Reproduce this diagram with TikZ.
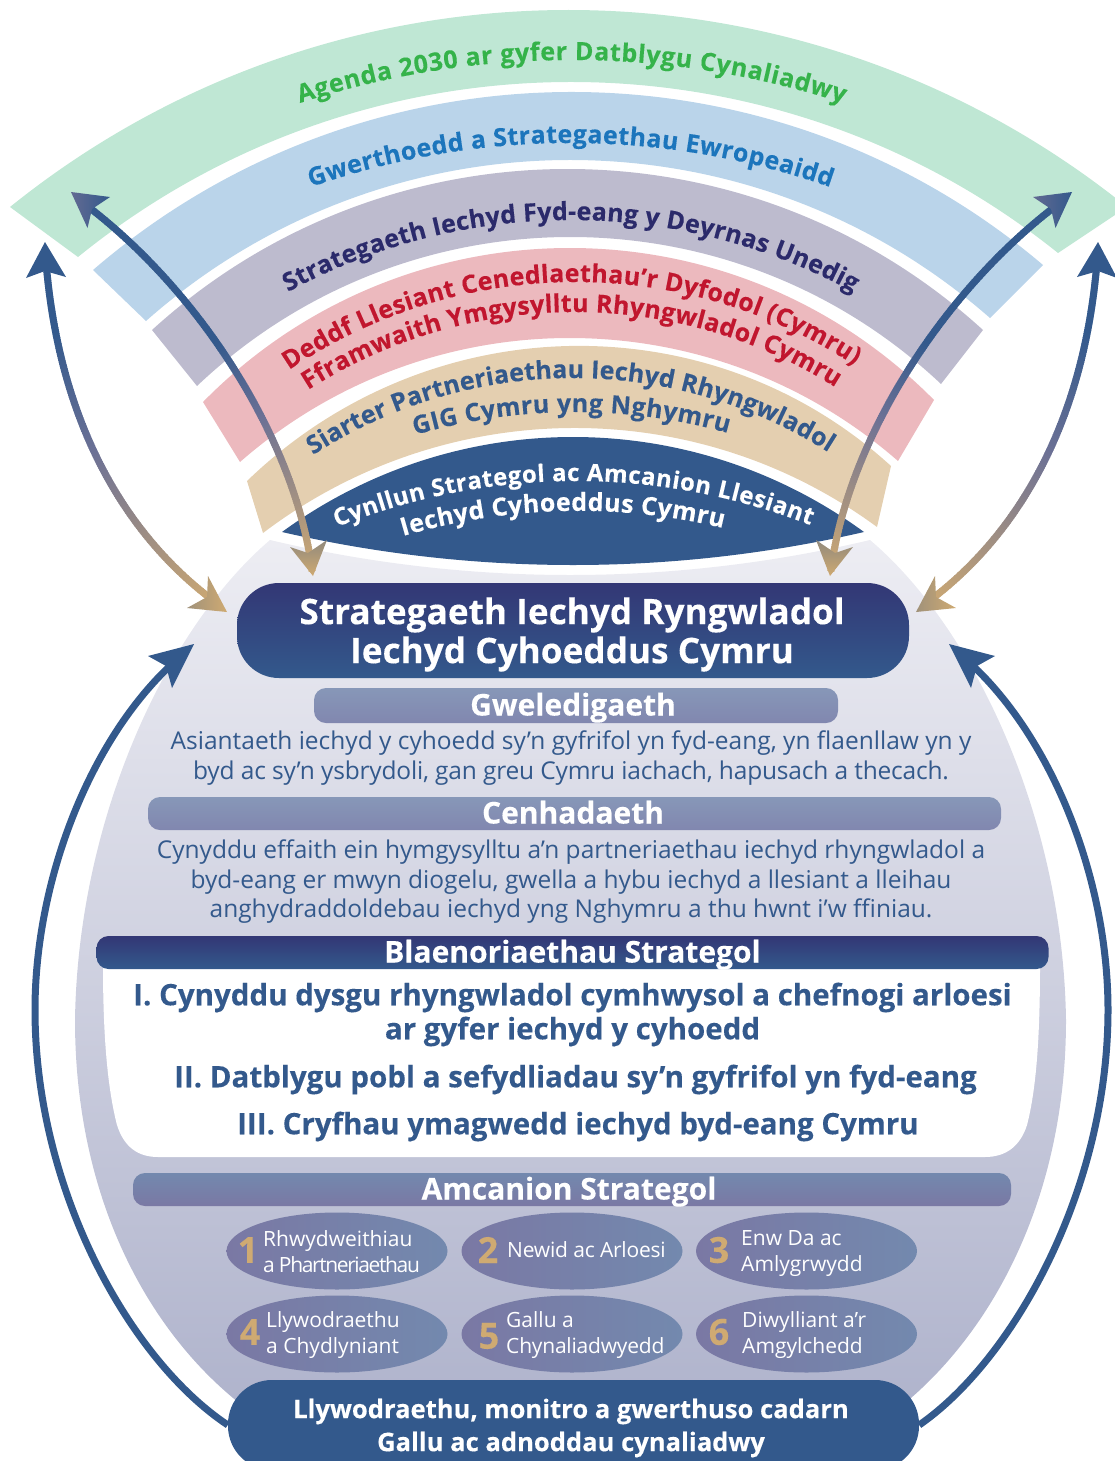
\documentclass[tikz,border=0pt]{standalone}
\usepackage{fontspec}
\setmainfont{Open Sans}[BoldFeatures={FakeBold=0.25}]
\usetikzlibrary{shapes.geometric,arrows.meta,decorations.text,decorations.markings}
\definecolor{bandGreen}{HTML}{BFE7D4}
\definecolor{bandBlue}{HTML}{BAD4EA}
\definecolor{bandGrey}{HTML}{BDBBCE}
\definecolor{bandPink}{HTML}{ECB9BE}
\definecolor{bandTan}{HTML}{E4CFB0}
\definecolor{phsBlue}{HTML}{33598C}
\definecolor{phsNavy}{HTML}{333775}
\definecolor{txtGreen}{HTML}{35B34A}
\definecolor{txtBlue}{HTML}{1C75BC}
\definecolor{txtNavy}{HTML}{2B2A6B}
\definecolor{txtRed}{HTML}{C1162E}
\definecolor{arrTan}{HTML}{CFAA72}
\definecolor{arrPurple}{HTML}{626A92}
\definecolor{arrMid}{HTML}{6C7195}
\definecolor{barTopA}{HTML}{8797B8}
\definecolor{barBotA}{HTML}{8187AF}
\definecolor{barTopB}{HTML}{7389AE}
\definecolor{barBotB}{HTML}{7A78A4}
\definecolor{eggTop}{HTML}{EDEDF3}
\definecolor{eggBot}{HTML}{AFB3CC}
% arc through A, apex height M, to B
\newcommand\cv[5]{.. controls ({#1+(2/3)*(1-(((#2+#5)/2-#3)/((#4-#1)/2))*(((#2+#5)/2-#3)/((#4-#1)/2)))*(#4-#1)/2},{(4*#3-#5)/3}) and ({#4-(2/3)*(1-(((#2+#5)/2-#3)/((#4-#1)/2))*(((#2+#5)/2-#3)/((#4-#1)/2)))*(#4-#1)/2},{(4*#3-#2)/3}) .. (#4,#5)}
\newcommand\curved[8]{\path[postaction={decorate},decoration={text along path,text align={fit to path},text={|\fontsize{#2}{#2}\selectfont\bfseries\color{#1}|#3}}] (#4,#5) \cv{#4}{#5}{#6}{#7}{#8};}
\tikzset{
  gradstroke/.style 2 args={decoration={markings,mark=between positions 0 and 1 step 2pt with {
    \pgfmathsetmacro\gt{\pgfkeysvalueof{/pgf/decoration/mark info/distance from start}/\pgfdecoratedpathlength}
    \pgfmathsetmacro\ga{100*min(1,\gt/#1)}
    \pgfmathsetmacro\gb{100*max(0,min(1,(\gt-#1)/(#2-#1)))}
    \colorlet{gradtmp}{arrMid!\ga!arrTan}
    \fill[phsBlue!\gb!gradtmp] (-1.4pt,-3.5pt) rectangle (1.4pt,3.5pt);}},decorate},
  bar/.style={rectangle,rounded corners=12pt,inner sep=0pt,text=white,text height=24pt,text depth=4pt,font=\fontsize{30}{30}\selectfont\bfseries},
  softbar/.style={bar,top color=barTopA,bottom color=barBotA},
  darkbar/.style={bar,top color=phsNavy,bottom color=phsBlue},
  para/.style={align=center,text=phsBlue,inner sep=0pt,font=\fontsize{24.5}{29.5}\selectfont},
  prio/.style={align=center,text=phsBlue,inner sep=0pt,font=\fontsize{29.5}{34}\selectfont\bfseries},
  oval/.style={ellipse,minimum width=221pt,minimum height=77pt,inner sep=0pt,left color=barBotB,right color=barTopB},
  num/.style={text=arrTan,inner sep=0pt,font=\fontsize{36}{36}\selectfont\bfseries},
  ovaltext/.style={anchor=west,align=left,text=white,inner sep=0pt,font=\fontsize{21}{26}\selectfont},
  pilltext/.style={align=center,text=white,inner sep=0pt},
}
\newcommand\armset[2]{%
  \coordinate (innerTan#1) at (312,570);
  \coordinate (innerBlue#1) at (82,202);
  \path[gradstroke={0.36}{0.56}] (innerTan#1) .. controls (295,440) and (200,290) .. (innerBlue#1);
  \shade[top color=phsBlue!40!arrTan,bottom color=arrTan] (313,576) -- (290,547) -- (308,553) -- (327,540) -- cycle;
  \shade[left color=arrPurple,right color=phsBlue] (71,192) -- (110,197) -- (92,209) -- (87.5,228) -- cycle;
  \coordinate (outerTan#1) at (218,604);
  \coordinate (outerBlue#1) at (46,262);
  \path[gradstroke={0.5}{0.82}] (outerTan#1) .. controls (130,540) and (60,430) .. (outerBlue#1);
  \shade[left color=phsBlue!30!arrTan,right color=arrTan] (227,612) -- (208,576) -- (207,597) -- (187,608) -- cycle;
  \fill[phsBlue] (45,242) -- (26,278) -- (45,271) -- (66,277) -- cycle;
  \coordinate (loopMid#1) at (35,1010);
  \coordinate (loopEnd#1) at (172,664);
  \draw[phsBlue,line width=7pt] (#2) .. controls (130,1360) and (35,1190) .. (loopMid#1) .. controls (35,880) and (90,740) .. (loopEnd#1);
  \fill[phsBlue] (194,644) -- (148,656) -- (166,666) -- (172,688) -- cycle;
}
\begin{document}
\begin{tikzpicture}[x=1pt,y=-1pt]
\useasboundingbox (0,0) rectangle (1115,1461);
\clip (0,0) rectangle (1115,1461);
% bands
\fill[bandGreen] (10,207) \cv{10}{207}{10}{1127}{207} -- (1058,253) \cv{1058}{253}{82}{78}{257} -- cycle;
\fill[bandBlue] (93,270) \cv{93}{270}{92}{1043}{265} -- (990,318) \cv{990}{318}{160}{146}{321} -- cycle;
\fill[bandGrey] (152,330) \cv{152}{330}{169}{983}{330} -- (941,384) \cv{941}{384}{237}{197}{386} -- cycle;
\fill[bandPink] (203,402) \cv{203}{402}{248}{934}{400} -- (898,461) \cv{898}{461}{338}{240}{462} -- cycle;
\fill[bandTan] (247,481) \cv{247}{481}{346}{891}{466} -- (877,527) \cv{877}{527}{428}{263}{533} -- cycle;
\fill[phsBlue] (282,532) \cv{282}{532}{437}{864}{532} \cv{864}{532}{565}{282}{532} -- cycle;
% body
\shade[top color=eggTop,bottom color=eggBot] (270,540) \cv{270}{540}{575}{870}{540}
  .. controls (976,630) and (1063,820) .. (1066,1020)
  .. controls (1066,1200) and (990,1340) .. (890,1415)
  -- (255,1415)
  .. controls (150,1340) and (75,1200) .. (75,1020)
  .. controls (78,820) and (165,630) .. (270,540) -- cycle;
% band labels
\curved{txtGreen}{25}{Agenda 2030 ar gyfer Datblygu Cynaliadwy}{300}{103}{60}{843}{103}
\curved{txtBlue}{25}{Gwerthoedd a Strategaethau Ewropeaidd}{311}{187}{143}{830}{187}
\curved{txtNavy}{25}{Strategaeth Iechyd Fyd-eang y Deyrnas Unedig}{288}{292}{220}{853}{292}
\curved{txtRed}{25}{Deddf Llesiant Cenedlaethau’r Dyfodol (Cymru)}{289}{370}{282}{854}{365}
\curved{txtRed}{25}{Fframwaith Ymgysylltu Rhyngwladol Cymru}{308}{390}{312}{835}{387}
\curved{phsBlue}{25}{Siarter Partneriaethau Iechyd Rhyngwladol}{313}{455}{378}{828}{452}
\curved{phsBlue}{25}{GIG Cymru yng Nghymru}{415}{435}{412}{728}{433}
\curved{white}{24}{Cynllun Strategol ac Amcanion Llesiant}{337}{527}{481}{810}{525}
\curved{white}{25}{Iechyd Cyhoeddus Cymru}{403}{536}{511}{723}{528}
% main pill
\node[rectangle,rounded corners=42pt,minimum width=672pt,minimum height=95pt,inner sep=0pt,top color=phsNavy,bottom color=phsBlue] (mainbox) at (573,630.5) {};
\node[pilltext,font=\fontsize{35.2}{39}\selectfont\bfseries] (maintitle) at (572,634.5) {Strategaeth Iechyd Ryngwladol\\Iechyd Cyhoeddus Cymru};
% vision
\node[softbar,minimum width=524pt,minimum height=35pt] (visionbar) at (576,705.5) {\hspace*{-6pt}Gweledigaeth};
\node[para] (visiontext) at (571,758) {Asiantaeth iechyd y cyhoedd sy’n gyfrifol yn fyd-eang, yn flaenllaw yn y\\{\addfontfeature{LetterSpace=-0.8}byd ac sy’n ysbrydoli, gan greu Cymru iachach, hapusach a thecach.}};
% mission
\node[softbar,minimum width=853pt,minimum height=33pt] (missionbar) at (574.5,813.5) {\hspace*{-3pt}Cenhadaeth};
\node[para] (missiontext) at (571,882) {Cynyddu effaith ein hymgysylltu a’n partneriaethau iechyd rhyngwladol a\\byd-eang er mwyn diogelu, gwella a hybu iechyd a llesiant a lleihau\\anghydraddoldebau iechyd yng Nghymru a thu hwnt i’w ffiniau.};
% priorities
\fill[white] (103,965) -- (1040,965) .. controls (1040,1040) and (1036,1090) .. (1027,1125)
  .. controls (1020,1147) and (1005,1157) .. (985,1157) -- (158,1157)
  .. controls (138,1157) and (124,1147) .. (117,1125) .. controls (108,1090) and (103,1040) .. (103,965) -- cycle;
\node[darkbar,minimum width=952pt,minimum height=33pt] (prioritybar) at (572.5,952.5) {Blaenoriaethau Strategol};
\node[prio] (prioA) at (572.5,1014.5) {I. Cynyddu dysgu rhyngwladol cymhwysol a chefnogi arloesi\\ar gyfer iechyd y cyhoedd};
\node[prio] (prioB) at (575.5,1079.5) {II. Datblygu pobl a sefydliadau sy’n gyfrifol yn fyd-eang};
\node[prio] (prioC) at (578,1126.5) {III. Cryfhau ymagwedd iechyd byd-eang Cymru};
% objectives
\node[bar,top color=barTopB,bottom color=barBotB,minimum width=878pt,minimum height=33pt] (objbar) at (572,1189.5) {\hspace*{-6pt}Amcanion Strategol};
\node[oval] (ov1) at (337,1251) {};
\node[oval] (ov2) at (572,1251) {};
\node[oval] (ov3) at (806.5,1251) {};
\node[oval] (ov4) at (337,1334) {};
\node[oval] (ov5) at (572,1334) {};
\node[oval] (ov6) at (806.5,1334) {};
\node[num] (n1) at (248,1250) {1};
\node[num] (n2) at (488,1250) {2};
\node[num] (n3) at (719,1250) {3};
\node[num] (n4) at (250,1332) {4};
\node[num] (n5) at (489,1336) {5};
\node[num] (n6) at (719,1332) {6};
\node[ovaltext] (t1) at (263,1252) {Rhwydweithiau\\{\addfontfeature{LetterSpace=-6.5}a Phartneriaethau}};
\node[ovaltext] (t2) at (507,1250) {\addfontfeature{LetterSpace=-1}Newid ac Arloesi};
\node[ovaltext] (t3) at (741,1254) {Enw Da ac\\Amlygrwydd};
\node[ovaltext] (t4) at (266,1335) {Llywodraethu\\a Chydlyniant};
\node[ovaltext] (t5) at (506,1335) {Gallu a\\{\addfontfeature{LetterSpace=-1}Chynaliadwyedd}};
\node[ovaltext] (t6) at (742,1335) {Diwylliant a’r\\Amgylchedd};
% foundation pill
\node[rectangle,rounded corners=44pt,minimum width=691pt,minimum height=90pt,inner sep=0pt,fill=phsBlue] (govbox) at (573.5,1425) {};
\node[pilltext,font=\fontsize{25.6}{33}\selectfont\bfseries] (govtext) at (571,1428) {Llywodraethu, monitro a gwerthuso cadarn\\Gallu ac adnoddau cynaliadwy};
% arrows
\armset{L}{govbox.west}
\begin{scope}[shift={(1143,0)},xscale=-1]
\armset{R}{govbox.east}
\end{scope}
\end{tikzpicture}
\end{document}
